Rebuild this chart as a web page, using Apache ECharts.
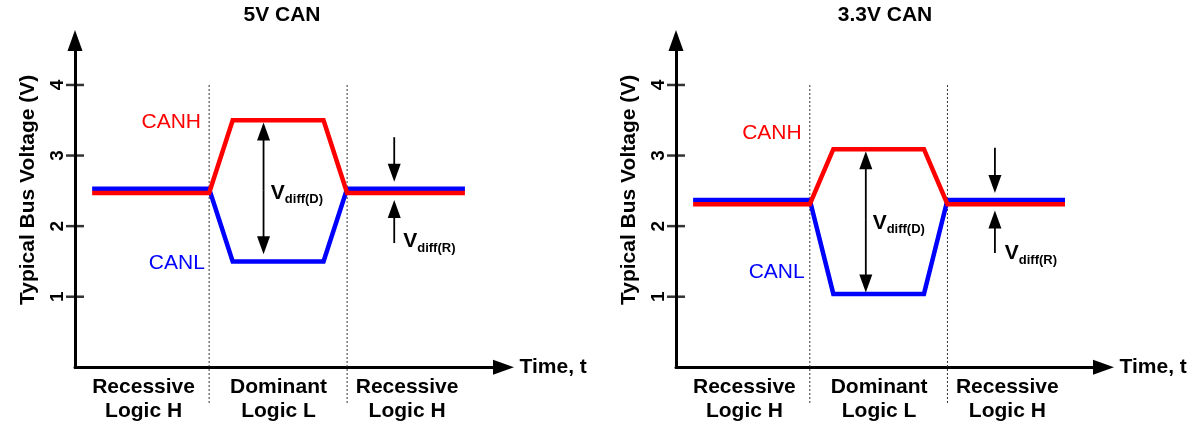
<!DOCTYPE html>
<html>
<head>
<meta charset="utf-8">
<script src="https://cdn.jsdelivr.net/npm/echarts@6/dist/echarts.min.js"></script>
<style>
html,body{margin:0;padding:0;background:#fff;}
#chart{width:1202px;height:440px;}
</style>
</head>
<body>
<div id="chart"></div>
<script>
// ---- data ----
const titles = ['5V CAN', '3.3V CAN'];
const yName = 'Typical Bus Voltage (V)';
const xName = 'Time, t';
const yTicks = [1, 2, 3, 4];
const regionLabels = ['Recessive\nLogic H', 'Dominant\nLogic L', 'Recessive\nLogic H'];
const regionCenters = [16, 47.5, 77.5];
const timePts = [4, 31.3, 36.8, 58, 63.5, 91];
const canh5 = [2.47, 2.47, 3.5, 3.5, 2.47, 2.47];
const canl5 = [2.53, 2.53, 1.5, 1.5, 2.53, 2.53];
const canh33 = [2.31, 2.31, 3.09, 3.09, 2.31, 2.31];
const canl33 = [2.37, 2.37, 1.04, 1.04, 2.37, 2.37];
const bitEdges = [31.3, 63.5];
const edgeSpan = [4, -0.51];
// arrows: [x, tail, tip]
const arrows5 = [[44, 2.5, 3.47], [44, 2.5, 1.6], [74.5, 3.26, 2.63], [74.5, 1.76, 2.37]];
const arrows33 = [[44.4, 2.1, 3.06], [44.4, 2.1, 1.06], [74.6, 3.11, 2.47], [74.6, 1.62, 2.22]];
// annotation texts: [x, y, index]
const annoTexts = ['CANH', 'CANL', 'Vdiff(D)', 'Vdiff(R)'];
const annos5 = [[29.4, 3.47, 0], [30.3, 1.48, 1], [45.7, 2.47, 2], [76.6, 1.78, 3]];
const annos33 = [[29.4, 3.32, 0], [30.1, 1.35, 1], [46, 2.04, 2], [76.9, 1.61, 3]];

const FONT = "'Liberation Sans', Arial, Helvetica, sans-serif";
const zip = (xs, ys) => xs.map((x, i) => [x, ys[i]]);

function renderArrow(params, api) {
  const x = api.value(0), t = api.value(1), h = api.value(2);
  const p0 = api.coord([x, t]), p1 = api.coord([x, h]);
  const dir = p1[1] > p0[1] ? 1 : -1;
  const headLen = 18, headW = 13;
  const base = p1[1] - dir * headLen;
  return {
    type: 'group',
    children: [
      { type: 'line', shape: { x1: p0[0], y1: p0[1], x2: p1[0], y2: base + dir * 2 }, style: { stroke: '#000', lineWidth: 1.8 } },
      { type: 'polygon', shape: { points: [[p1[0], p1[1]], [p1[0] - headW / 2, base], [p1[0] + headW / 2, base]] }, style: { fill: '#000' } }
    ]
  };
}

function renderText(params, api) {
  const x = api.value(0), y = api.value(1), idx = api.value(2);
  const p = api.coord([x, y]);
  const s = annoTexts[idx];
  if (idx === 0 || idx === 1) {
    return { type: 'text', x: p[0], y: p[1], style: { text: s, fill: idx === 0 ? '#ff0000' : '#0000ff', font: '21px ' + FONT, align: 'right', verticalAlign: 'middle' } };
  }
  return {
    type: 'text', x: p[0], y: p[1],
    style: {
      text: '{v|V}{s|' + s.slice(1) + '}',
      align: 'left', verticalAlign: 'middle',
      rich: {
        v: { font: 'bold 21px ' + FONT, fill: '#000', lineHeight: 26, verticalAlign: 'middle' },
        s: { font: 'bold 13px ' + FONT, fill: '#000', lineHeight: 13, verticalAlign: 'bottom' }
      }
    }
  };
}

const grids = [
  { left: 75, top: 40.5, width: 428.5, height: 326.8 },
  { left: 676, top: 40.5, width: 427.5, height: 326.8 }
];

function makeX(i) {
  return {
    type: 'value', gridIndex: i, min: 0, max: 100,
    axisLine: { show: true, onZero: false, symbol: ['none', 'triangle'], symbolSize: [15, 21], lineStyle: { color: '#000', width: 3 } },
    axisTick: { show: false }, splitLine: { show: false },
    axisLabel: {
      customValues: regionCenters,
      formatter: v => { const k = regionCenters.indexOf(v); return k >= 0 ? regionLabels[k] : ''; },
      fontFamily: FONT, fontSize: 21, fontWeight: 'bold', lineHeight: 24, margin: 8, color: '#000'
    },
    name: xName, nameLocation: 'end', nameGap: 16,
    nameTextStyle: { fontFamily: FONT, fontSize: 21, fontWeight: 'bold', color: '#000', align: 'left', verticalAlign: 'middle' }
  };
}
function makeY(i) {
  return {
    type: 'value', gridIndex: i, min: 0, max: 4.63,
    axisLine: { show: true, onZero: false, symbol: ['none', 'triangle'], symbolSize: [15, 21], lineStyle: { color: '#000', width: 3 } },
    axisTick: { show: false }, splitLine: { show: false },
    axisLabel: { customValues: yTicks, rotate: 90, margin: 8, fontFamily: FONT, fontSize: 19, fontWeight: 'bold', color: '#000' },
    name: yName, nameLocation: 'middle', nameGap: 36, nameRotate: 90,
    nameTextStyle: { fontFamily: FONT, fontSize: 21, fontWeight: 'bold', color: '#000', padding: [0, 0, 0, 28] }
  };
}

const series = [];
const sets = [[canh5, canl5, arrows5, annos5], [canh33, canl33, arrows33, annos33]];
sets.forEach(([h, l, arr, an], i) => {
  bitEdges.forEach(e => {
    series.push({ type: 'line', xAxisIndex: i, yAxisIndex: i, clip: false, symbol: 'none', silent: true, z: 1,
      data: [[e, edgeSpan[0]], [e, edgeSpan[1]]],
      lineStyle: { color: '#333', width: 1, type: [2, 2] } });
  });
  series.push({ type: 'scatter', xAxisIndex: i, yAxisIndex: i, clip: false, silent: true, z: 5,
    data: yTicks.map(v => [0, v]), symbol: 'rect', symbolSize: [18, 2.5], itemStyle: { color: '#000' } });
  series.push({ type: 'line', name: 'CANL', xAxisIndex: i, yAxisIndex: i, symbol: 'none', z: 3,
    data: zip(timePts, l), lineStyle: { color: '#0000ff', width: 4.5, join: 'miter' } });
  series.push({ type: 'line', name: 'CANH', xAxisIndex: i, yAxisIndex: i, symbol: 'none', z: 4,
    data: zip(timePts, h), lineStyle: { color: '#ff0000', width: 4.5, join: 'miter' } });
  series.push({ type: 'custom', xAxisIndex: i, yAxisIndex: i, renderItem: renderArrow, data: arr, z: 6, silent: true });
  series.push({ type: 'custom', xAxisIndex: i, yAxisIndex: i, renderItem: renderText, data: an, z: 6, silent: true });
});

const chart = echarts.init(document.getElementById('chart'), null, { renderer: 'canvas' });
chart.setOption({
  animation: false,
  backgroundColor: '#fff',
  title: [
    { text: titles[0], left: 282, top: 5, padding: 0, textAlign: 'center', textStyle: { fontFamily: FONT, fontSize: 21, fontWeight: 'bold', color: '#000' } },
    { text: titles[1], left: 885, top: 5, padding: 0, textAlign: 'center', textStyle: { fontFamily: FONT, fontSize: 21, fontWeight: 'bold', color: '#000' } }
  ],
  grid: grids,
  xAxis: [makeX(0), makeX(1)],
  yAxis: [makeY(0), makeY(1)],
  series: series
});
</script>
</body>
</html>
